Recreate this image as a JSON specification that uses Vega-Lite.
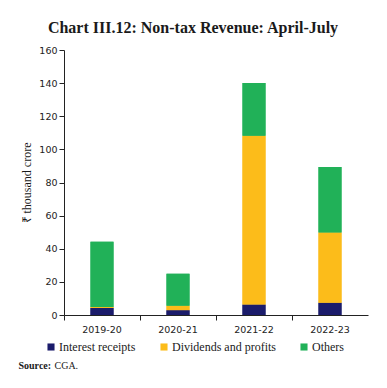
{
  "$schema": "https://vega.github.io/schema/vega-lite/v6.json",
  "width": 304,
  "height": 265,
  "autosize": {"type": "none"},
  "padding": {"left": 64, "top": 50, "right": 19, "bottom": 73},
  "background": "white",
  "title": {
    "text": "Chart III.12: Non-tax Revenue: April-July",
    "font": "Liberation Serif",
    "fontSize": 16,
    "fontWeight": "bold",
    "color": "#1a1a1a",
    "anchor": "middle",
    "frame": "bounds",
    "offset": 9
  },
  "data": {
    "values": [
      {"year": "2019-20", "series": "Interest receipts", "value": 4.3},
      {"year": "2019-20", "series": "Dividends and profits", "value": 0.6},
      {"year": "2019-20", "series": "Others", "value": 39.3},
      {"year": "2020-21", "series": "Interest receipts", "value": 2.9},
      {"year": "2020-21", "series": "Dividends and profits", "value": 2.7},
      {"year": "2020-21", "series": "Others", "value": 19.3},
      {"year": "2021-22", "series": "Interest receipts", "value": 6.3},
      {"year": "2021-22", "series": "Dividends and profits", "value": 102.0},
      {"year": "2021-22", "series": "Others", "value": 31.8},
      {"year": "2022-23", "series": "Interest receipts", "value": 7.4},
      {"year": "2022-23", "series": "Dividends and profits", "value": 42.4},
      {"year": "2022-23", "series": "Others", "value": 39.6}
    ]
  },
  "transform": [
    {"calculate": "indexof(['Interest receipts','Dividends and profits','Others'], datum.series)", "as": "stackOrder"}
  ],
  "encoding": {
    "y": {
      "field": "value",
      "type": "quantitative",
      "stack": "zero",
      "scale": {"domain": [0, 160], "nice": false},
      "axis": {
        "values": [0, 20, 40, 60, 80, 100, 120, 140, 160],
        "grid": false,
        "labelFont": "DejaVu Sans",
        "labelFontSize": 9.5,
        "labelColor": "#222222",
        "labelPadding": 2,
        "tickColor": "#222222",
        "tickSize": 5,
        "domainColor": "#222222",
        "title": "₹ thousand crore",
        "titleFont": "Liberation Serif",
        "titleFontSize": 12,
        "titleFontWeight": "normal",
        "titleColor": "#1a1a1a",
        "titlePadding": 5
      }
    },
    "color": {
      "field": "series",
      "type": "nominal",
      "scale": {
        "domain": ["Interest receipts", "Dividends and profits", "Others"],
        "range": ["#1b1c6b", "#fcbc1a", "#21b158"]
      },
      "legend": {
        "orient": "none",
        "legendX": -19,
        "legendY": 291,
        "direction": "horizontal",
        "columns": 3,
        "columnPadding": 22,
        "title": null,
        "symbolType": "square",
        "symbolSize": 50,
        "symbolStrokeWidth": 0,
        "labelFont": "Liberation Serif",
        "labelFontSize": 12,
        "labelColor": "#1a1a1a",
        "labelOffset": 2
      }
    },
    "order": {"field": "stackOrder", "type": "quantitative"}
  },
  "layer": [
    {
      "mark": {"type": "bar", "width": 23},
      "encoding": {
        "x": {
          "field": "year",
          "type": "nominal",
          "scale": {"paddingInner": 0, "paddingOuter": 0},
          "axis": {
            "orient": "bottom",
            "labelAngle": 0,
            "labelFont": "DejaVu Sans",
            "labelFontSize": 9.5,
            "labelColor": "#222222",
            "labelPadding": 4,
            "bandPosition": 0,
            "tickColor": "#222222",
            "tickSize": 5,
            "domainColor": "#222222",
            "title": "Source:",
            "titleFont": "Liberation Serif",
            "titleFontSize": 10,
            "titleFontWeight": "bold",
            "titleColor": "#1a1a1a",
            "titleAnchor": "start",
            "titleAlign": "left",
            "titleBaseline": "middle",
            "titleX": -46,
            "titleY": 50
          }
        }
      }
    },
    {
      "mark": {"type": "bar", "width": 23},
      "encoding": {
        "x": {
          "field": "year",
          "type": "nominal",
          "scale": {"paddingInner": 0, "paddingOuter": 0},
          "axis": {
            "orient": "bottom",
            "labels": false,
            "ticks": false,
            "domain": false,
            "title": "CGA.",
            "titleFont": "Liberation Serif",
            "titleFontSize": 10,
            "titleFontWeight": "normal",
            "titleColor": "#1a1a1a",
            "titleAnchor": "start",
            "titleAlign": "left",
            "titleBaseline": "middle",
            "titleX": -10,
            "titleY": 50
          }
        }
      }
    }
  ],
  "resolve": {"axis": {"x": "independent"}},
  "config": {
    "view": {"stroke": null}
  }
}
